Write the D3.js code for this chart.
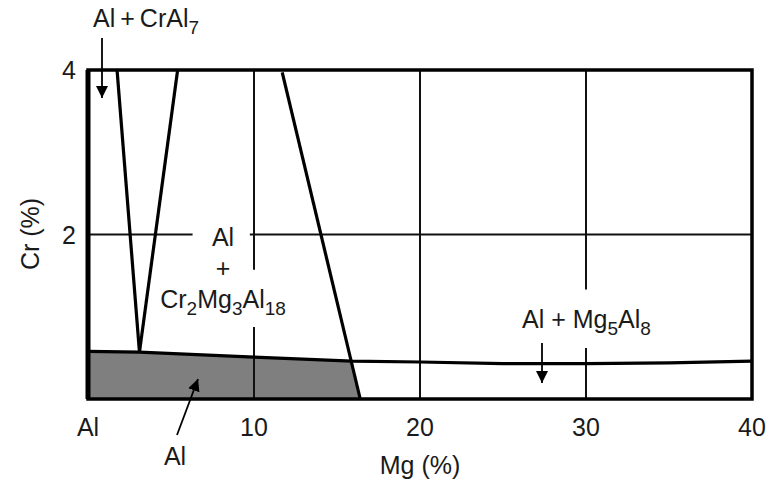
<!DOCTYPE html>
<html>
  <head>
    <title>Al-Mg-Cr section</title>
    <script src="https://d3js.org/d3.v7.min.js" charset="utf-8"></script>
    <style type="text/css">
      body { margin: 0; background: #fff; }
      text { font-family: "Liberation Sans", Arial, sans-serif; fill: #1a1a1a; }
    </style>
  </head>
  <body>
    <script type="text/javascript">

      // Axis ticks
      var xTicks = [0, 10, 20, 30, 40];
      var xTickLabels = ["Al", "10", "20", "30", "40"];
      var yTicks = [2, 4];

      // Phase boundaries, [Mg %, Cr %]
      var leftBoundary = [[1.75, 4], [3.1, 0.57]];
      var rightBoundary = [[5.4, 4], [3.1, 0.57]];
      var mgBoundary = [[11.7, 3.97], [16.4, 0]];
      var solvus = [[0, 0.58], [3.1, 0.57], [10, 0.51], [15.9, 0.46], [20, 0.45],
                    [25, 0.43], [30, 0.43], [35, 0.44], [40, 0.46]];
      var alRegion = [[0, 0], [0, 0.58], [3.1, 0.57], [10, 0.51], [15.9, 0.46], [16.4, 0]];

      var width = 769, height = 486;
      var svg = d3.select("body").append("svg")
          .attr("width", width)
          .attr("height", height);

      var x = d3.scaleLinear().domain([0, 40]).range([88, 752]);
      var y = d3.scaleLinear().domain([0, 4]).range([399, 70]);

      var line = d3.line().x(function(d) { return x(d[0]); }).y(function(d) { return y(d[1]); });

      // shaded Al field
      svg.append("path")
          .attr("d", line(alRegion) + "Z")
          .style("fill", "#7f7f7f");

      // grid lines (with gaps where the labels sit)
      var grid = [
        [[10, 4], [10, 1.57]], [[10, 0.875], [10, 0]],
        [[20, 4], [20, 0]],
        [[30, 4], [30, 1.33]], [[30, 0.62], [30, 0]],
        [[0, 2], [6.3, 2]], [[9.75, 2], [40, 2]]
      ];
      svg.selectAll(".grid").data(grid).enter().append("path")
          .attr("class", "grid")
          .attr("d", line)
          .style("fill", "none")
          .style("stroke", "#111")
          .style("stroke-width", 2);

      // boundaries
      [leftBoundary, rightBoundary, mgBoundary, solvus].forEach(function(b) {
        svg.append("path")
            .attr("d", line(b))
            .style("fill", "none")
            .style("stroke", "#000")
            .style("stroke-width", 3.2);
      });

      // frame
      svg.append("rect")
          .attr("x", x(0)).attr("y", y(4))
          .attr("width", x(40) - x(0)).attr("height", y(0) - y(4))
          .style("fill", "none")
          .style("stroke", "#000")
          .style("stroke-width", 3.5);
      svg.append("line")
          .attr("x1", x(0)).attr("x2", x(0)).attr("y1", y(4)).attr("y2", y(0))
          .style("stroke", "#000").style("stroke-width", 5);

      // tick labels
      svg.selectAll(".xt").data(xTicks).enter().append("text")
          .attr("x", function(d) { return x(d); })
          .attr("y", 436)
          .attr("text-anchor", "middle")
          .style("font-size", "25px")
          .text(function(d, i) { return xTickLabels[i]; });
      svg.selectAll(".yt").data(yTicks).enter().append("text")
          .attr("x", 76)
          .attr("y", function(d) { return y(d) + 9; })
          .attr("text-anchor", "end")
          .style("font-size", "25px")
          .text(function(d) { return d; });

      // axis titles
      svg.append("text")
          .attr("x", 420).attr("y", 474)
          .attr("text-anchor", "middle")
          .style("font-size", "25px")
          .text("Mg (%)");
      svg.append("text")
          .attr("transform", "translate(39,234) rotate(-90)")
          .attr("text-anchor", "middle")
          .style("font-size", "25px")
          .text("Cr (%)");

      // labels with subscripts
      function label(px, py, parts, anchor) {
        var t = svg.append("text")
            .attr("x", px).attr("y", py)
            .attr("text-anchor", anchor || "start")
            .style("font-size", "25px");
        parts.forEach(function(p) {
          var s = t.append("tspan").text(p[0]);
          if (p[1]) s.style("font-size", "19px").attr("dy", 7);
          else if (p[2]) s.attr("dy", -7);
        });
        return t;
      }
      label(93, 27, [["Al\u2009+\u2009CrAl"], ["7", 1]]);
      label(522, 328, [["Al + Mg"], ["5", 1], ["Al", 0, 1], ["8", 1]]);
      label(223, 246, [["Al"]], "middle");
      label(223, 277, [["+"]], "middle");
      label(223, 308, [["Cr"], ["2", 1], ["Mg", 0, 1], ["3", 1], ["Al", 0, 1], ["18", 1]], "middle");
      label(175, 465, [["Al"]], "middle");

      // arrows
      var defs = svg.append("defs");
      defs.append("marker")
          .attr("id", "head")
          .attr("viewBox", "0 0 10 10")
          .attr("refX", 10).attr("refY", 5)
          .attr("markerWidth", 12).attr("markerHeight", 12)
          .attr("markerUnits", "userSpaceOnUse")
          .attr("orient", "auto")
          .append("path").attr("d", "M0,0L10,5L0,10Z").style("fill", "#000");
      var arrows = [[102, 38, 102, 98], [542, 343, 542, 383], [177, 435, 198, 379]];
      arrows.forEach(function(a) {
        svg.append("line")
            .attr("x1", a[0]).attr("y1", a[1]).attr("x2", a[2]).attr("y2", a[3])
            .style("stroke", "#000").style("stroke-width", 1.8)
            .attr("marker-end", "url(#head)");
      });

    </script>
  </body>
</html>
